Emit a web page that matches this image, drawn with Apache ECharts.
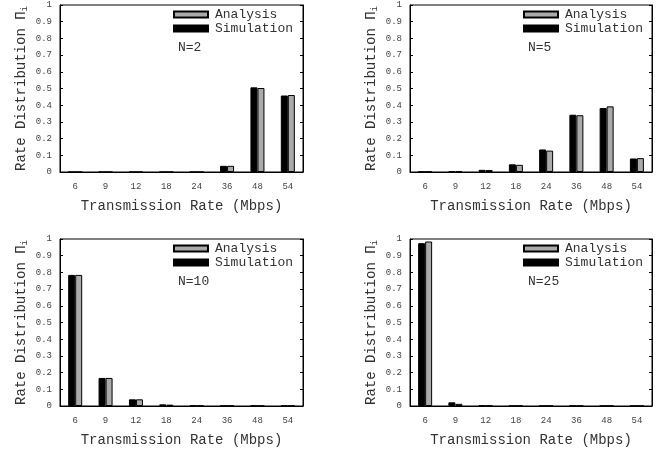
<!DOCTYPE html>
<html>
<head>
<meta charset="utf-8">
<script src="https://cdn.jsdelivr.net/npm/echarts@6/dist/echarts.min.js"></script>
<style>html,body{margin:0;padding:0;background:#fff;}#c{width:668px;height:449px;}</style>
</head>
<body>
<div id="c"></div>
<script>
const categories = ['6', '9', '12', '18', '24', '36', '48', '54'];
const panelLabels = ['N=2', 'N=5', 'N=10', 'N=25'];
const yTicks = [0, 0.1, 0.2, 0.3, 0.4, 0.5, 0.6, 0.7, 0.8, 0.9, 1];

const simN2 = [0, 0, 0, 0, 0, 0.037, 0.507, 0.458];
const anaN2 = [0, 0, 0, 0, 0, 0.037, 0.503, 0.461];
const simN5 = [0.002, 0.005, 0.013, 0.046, 0.135, 0.343, 0.383, 0.081];
const anaN5 = [0.002, 0.004, 0.012, 0.043, 0.128, 0.340, 0.393, 0.083];
const simN10 = [0.785, 0.168, 0.040, 0.010, 0.003, 0.002, 0.002, 0.002];
const anaN10 = [0.785, 0.168, 0.040, 0.008, 0.002, 0.001, 0.001, 0.001];
const simN25 = [0.975, 0.022, 0.003, 0.001, 0.001, 0.001, 0.001, 0.001];
const anaN25 = [0.985, 0.013, 0.002, 0.001, 0.001, 0.001, 0.001, 0.001];

const simSets = [simN2, simN5, simN10, simN25];
const anaSets = [anaN2, anaN5, anaN10, anaN25];

const FONT = 'Liberation Mono';
const grids = [
  {left: 60, top: 5, width: 243, height: 167},
  {left: 410, top: 5, width: 242, height: 167},
  {left: 60, top: 239, width: 243, height: 167},
  {left: 410, top: 239, width: 242, height: 167}
];

const option = {
  animation: false,
  backgroundColor: '#fff',
  grid: grids.map(g => Object.assign({show: true, borderColor: '#000', borderWidth: 1, containLabel: false}, g)),
  xAxis: [], yAxis: [], series: [], legend: [], graphic: []
};

grids.forEach((g, i) => {
  option.xAxis.push({
    type: 'category', gridIndex: i, data: categories,
    name: 'Transmission Rate (Mbps)', nameLocation: 'middle', nameGap: 27,
    nameTextStyle: {fontFamily: FONT, fontSize: 14, color: '#333'},
    axisLine: {lineStyle: {color: '#000', width: 1}},
    axisTick: {inside: true, length: 3, alignWithLabel: true, lineStyle: {color: '#000'}},
    axisLabel: {fontFamily: FONT, fontSize: 9, color: '#444', margin: 10},
    splitLine: {show: false}
  });
  option.yAxis.push({
    type: 'value', gridIndex: i, min: 0, max: 1, interval: 0.1,
    name: '{a|Rate Distribution Π}{s|i}', nameLocation: 'middle', nameGap: 31, nameRotate: 90,
    nameTextStyle: {
      color: '#333',
      rich: {
        a: {fontFamily: FONT, fontSize: 14, lineHeight: 16, color: '#333', verticalAlign: 'middle'},
        s: {fontFamily: FONT, fontSize: 9, lineHeight: 8, color: '#333', verticalAlign: 'bottom'}
      }
    },
    axisLine: {show: true, lineStyle: {color: '#000', width: 1}},
    axisTick: {show: true, inside: true, length: 3, lineStyle: {color: '#000'}},
    axisLabel: {fontFamily: FONT, fontSize: 9, color: '#444', margin: 8},
    splitLine: {show: false}
  });
  option.yAxis.push({
    type: 'value', gridIndex: i, min: 0, max: 1, interval: 0.1, position: 'right',
    axisLine: {show: true, lineStyle: {color: '#000', width: 1}},
    axisTick: {show: true, inside: true, length: 3, lineStyle: {color: '#000'}},
    axisLabel: {show: false},
    splitLine: {show: false}
  });
  option.series.push({
    name: 'Simulation', type: 'bar', xAxisIndex: i, yAxisIndex: 2 * i,
    data: simSets[i], barWidth: 7, barGap: '0%',
    itemStyle: {color: '#000', borderColor: '#000', borderWidth: 1}
  });
  option.series.push({
    name: 'Analysis', type: 'bar', xAxisIndex: i, yAxisIndex: 2 * i,
    data: anaSets[i], barWidth: 7, barGap: '0%',
    itemStyle: {color: '#aaaaaa', borderColor: '#000', borderWidth: 1}
  });
  option.legend.push({
    data: ['Analysis', 'Simulation'], orient: 'vertical',
    left: g.left + 113, top: g.top + 3, padding: 0,
    icon: 'rect', itemWidth: 34, itemHeight: 6, itemGap: 1,
    selectedMode: false,
    textStyle: {fontFamily: FONT, fontSize: 13, color: '#333', lineHeight: 13, padding: [0, 0, 0, 2]}
  });
  option.graphic.push({
    type: 'text', left: g.left + 118, top: g.top + 36,
    style: {text: panelLabels[i], font: '13px "' + FONT + '"', fill: '#333'}
  });
});

const chart = echarts.init(document.getElementById('c'), null, {renderer: 'canvas'});
chart.setOption(option);
</script>
</body>
</html>
